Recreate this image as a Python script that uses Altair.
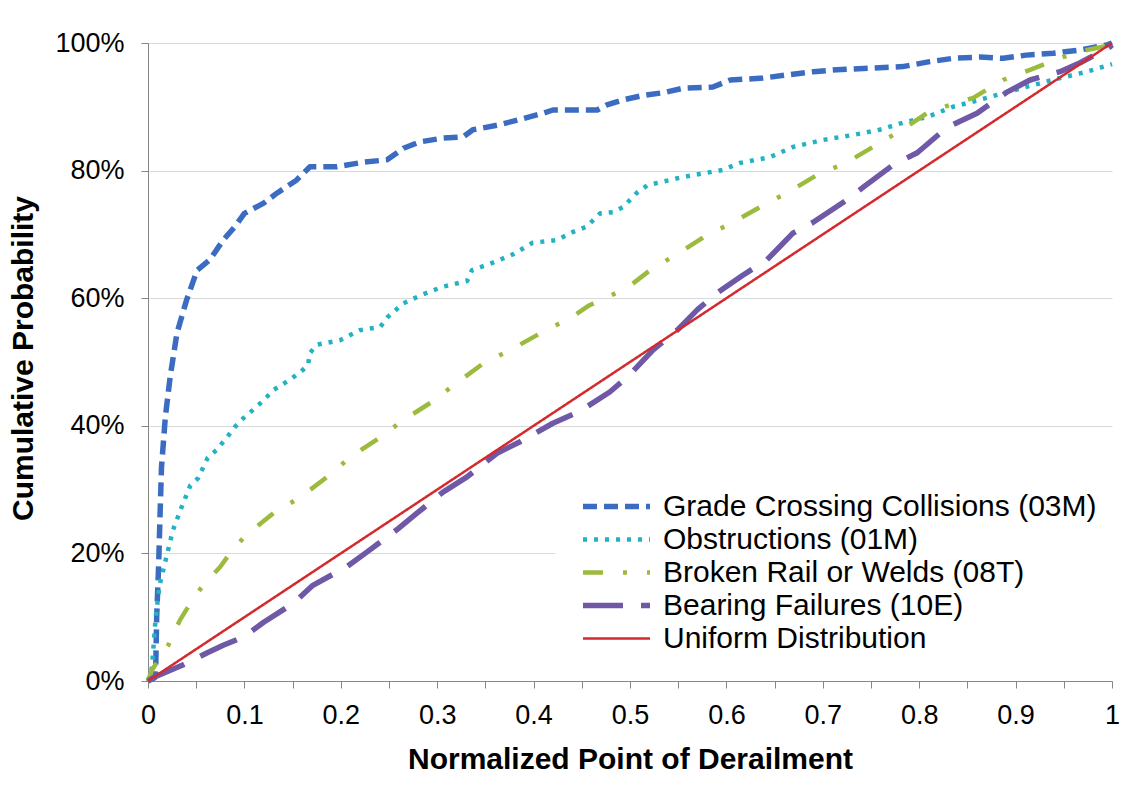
import altair as alt
import pandas as pd

# Series (legend order) and their styles
series_names = [
    "Grade Crossing Collisions (03M)",
    "Obstructions (01M)",
    "Broken Rail or Welds (08T)",
    "Bearing Failures (10E)",
    "Uniform Distribution",
]
line_colors = ["#3B6CC2", "#22B2C4", "#9CBB3E", "#6F58A6", "#D42A2E"]
dash_patterns = [[14, 7], [4, 7], [20, 20, 4, 20], [40, 18], [1, 0]]
line_widths = [5.5, 4.5, 4.5, 5.5, 2.5]

# Normalized point of derailment (x) vs cumulative probability in % (y)
grade_x = [0, 0.007, 0.008, 0.009, 0.011, 0.0125, 0.014, 0.018, 0.023, 0.030, 0.040,
           0.051, 0.064, 0.078, 0.090, 0.100, 0.120, 0.134, 0.154, 0.168, 0.196,
           0.223, 0.248, 0.265, 0.282, 0.306, 0.327, 0.337, 0.362, 0.383, 0.410,
           0.420, 0.466, 0.476, 0.493, 0.514, 0.534, 0.555, 0.586, 0.604, 0.638,
           0.663, 0.690, 0.714, 0.742, 0.783, 0.808, 0.835, 0.863, 0.887, 0.911,
           0.939, 0.967, 0.995, 1.0]
grade_y = [0, 0.5, 2, 10, 18, 26, 33.5, 41.4, 47.7, 54.5, 59.7,
           64.4, 66, 69.1, 71.2, 73.3, 74.9, 76.5, 78.5, 80.6, 80.6,
           81.3, 81.7, 83.5, 84.5, 85.1, 85.3, 86.4, 87.1, 87.9, 89,
           89.5, 89.5, 90.3, 91.1, 91.8, 92.2, 92.9, 93.1, 94.2, 94.5,
           95, 95.5, 95.8, 96, 96.3, 97, 97.6, 97.8, 97.6, 98.1,
           98.4, 98.9, 99.7, 100]

obstr_x = [0, 0.004, 0.008, 0.012, 0.019, 0.026, 0.035, 0.044, 0.052, 0.062, 0.071,
           0.082, 0.090, 0.099, 0.109, 0.120, 0.130, 0.147, 0.158, 0.166, 0.168,
           0.175, 0.199, 0.220, 0.241, 0.249, 0.265, 0.285, 0.306, 0.331, 0.336,
           0.355, 0.379, 0.399, 0.424, 0.441, 0.455, 0.469, 0.483, 0.493, 0.507,
           0.518, 0.555, 0.596, 0.614, 0.645, 0.669, 0.700, 0.732, 0.759, 0.783,
           0.808, 0.835, 0.863, 0.891, 0.918, 0.946, 0.974, 1.0]
obstr_y = [0, 2, 10, 15, 19.4, 23.7, 27.3, 30.7, 31.8, 35, 36.2,
           38.2, 39.8, 41.2, 42.5, 44, 45.6, 47.2, 48.4, 49.5, 51.4,
           52.7, 53.4, 55, 55.5, 57.1, 59.2, 60.6, 61.8, 62.7, 64.4,
           65.4, 66.9, 68.7, 69.1, 70.4, 71.2, 73.3, 73.5, 74.3, 76.5,
           77.7, 79, 80.1, 81.2, 82.1, 83.7, 84.8, 85.6, 86.4, 87.5,
           88.4, 90, 91.1, 92.3, 93.4, 94.5, 95.5, 96.7]

rail_x = [0, 0.004, 0.021, 0.033, 0.044, 0.057, 0.075, 0.085, 0.100, 0.130, 0.158,
          0.186, 0.210, 0.237, 0.265, 0.293, 0.320, 0.348, 0.376, 0.407, 0.438,
          0.458, 0.497, 0.521, 0.552, 0.580, 0.607, 0.635, 0.664, 0.694, 0.725,
          0.752, 0.782, 0.811, 0.856, 0.887, 0.915, 0.949, 0.974, 1.0]
rail_y = [0, 1.7, 5.6, 9.5, 12.2, 15, 17.9, 20, 22.6, 26.3, 28.8,
          32, 35.1, 37.8, 40.9, 43.6, 46.7, 49.8, 51.9, 54.5, 56.9,
          58.9, 61.6, 64.4, 67.2, 69.9, 71.9, 74.3, 76.6, 79.3, 81.3,
          83.7, 86.4, 89.3, 91.4, 94.2, 95.8, 97.8, 98.9, 99.7]

bearing_x = [0, 0.005, 0.036, 0.061, 0.078, 0.099, 0.120, 0.151, 0.171, 0.206, 0.227,
             0.258, 0.279, 0.306, 0.331, 0.362, 0.386, 0.420, 0.447, 0.479, 0.497,
             0.524, 0.549, 0.570, 0.590, 0.617, 0.642, 0.669, 0.690, 0.725, 0.742,
             0.773, 0.798, 0.829, 0.860, 0.891, 0.915, 0.946, 0.967, 0.998, 1.0]
bearing_y = [0, 0.5, 2.5, 4.4, 5.6, 6.9, 9.2, 12.2, 15, 17.9, 20.2,
             23.7, 26.3, 29.6, 32, 35.7, 37.5, 40.4, 42.2, 45.3, 47.6,
             51.9, 55, 58.2, 60.8, 63.6, 66, 70.2, 71.9, 75.4, 77.4,
             80.9, 82.8, 86.8, 89, 92.3, 94.2, 95.5, 96.9, 99.4, 99.7]

uniform_x = [0, 1]
uniform_y = [0, 100]

all_x = [grade_x, obstr_x, rail_x, bearing_x, uniform_x]
all_y = [grade_y, obstr_y, rail_y, bearing_y, uniform_y]

rows = []
for name, xs, ys in zip(series_names, all_x, all_y):
    for i, (a, b) in enumerate(zip(xs, ys)):
        rows.append({"series": name, "x": a, "y": b, "idx": i})
df = pd.DataFrame(rows)

x_ticks = [round(i * 0.05, 2) for i in range(21)]
y_ticks = [0, 20, 40, 60, 80, 100]

legend = alt.Legend(
    title=None,
    orient="none",
    legendX=407,
    legendY=422,
    padding=25,
    fillColor="white",
    symbolType="stroke",
    symbolSize=4489,
    symbolStrokeWidth=5,
    labelFontSize=30,
    labelFont="Liberation Sans",
    labelColor="#000000",
    labelOffset=10,
    labelLimit=700,
    clipHeight=33,
    rowPadding=0,
)

chart = (
    alt.Chart(df)
    .mark_line(strokeCap="butt", strokeJoin="round")
    .encode(
        x=alt.X(
            "x:Q",
            scale=alt.Scale(domain=[0, 1], nice=False, zero=False),
            axis=alt.Axis(
                values=x_ticks,
                format=".1~f",
                labelExpr="round(datum.value * 20) % 2 == 0 ? datum.label : ''",
                grid=False,
                domainColor="#868686",
                tickColor="#868686",
                tickSize=7,
                labelFontSize=27,
                labelPadding=14,
                labelFlush=False,
                labelOverlap=False,
                labelColor="#000000",
                title="Normalized Point of Derailment",
                titleFontSize=30,
                titleFontWeight="bold",
                titleColor="#000000",
                titleY=63,
            ),
        ),
        y=alt.Y(
            "y:Q",
            scale=alt.Scale(domain=[0, 100], nice=False),
            axis=alt.Axis(
                values=y_ticks,
                labelExpr="datum.value + '%'",
                grid=True,
                gridColor="#D9D9D9",
                gridWidth=1,
                domainColor="#868686",
                tickColor="#868686",
                tickSize=7,
                labelFontSize=27,
                labelPadding=17,
                labelFlush=False,
                labelOverlap=False,
                labelColor="#000000",
                title="Cumulative Probability",
                titleFontSize=30,
                titleFontWeight="bold",
                titleColor="#000000",
                titleAngle=270,
                titleAlign="center",
                titleBaseline="bottom",
                titleX=-110,
                titleY=315,
            ),
        ),
        color=alt.Color(
            "series:N",
            scale=alt.Scale(domain=series_names, range=line_colors),
            legend=legend,
        ),
        strokeDash=alt.StrokeDash(
            "series:N",
            scale=alt.Scale(domain=series_names, range=dash_patterns),
            legend=legend,
        ),
        strokeWidth=alt.StrokeWidth(
            "series:N",
            scale=alt.Scale(type="ordinal", domain=series_names, range=line_widths),
            legend=legend,
        ),
        order="idx:Q",
    )
    .properties(
        width=964,
        height=638,
        autosize=alt.AutoSizeParams(type="none"),
        padding={"left": 148, "top": 43, "right": 29, "bottom": 110},
    )
    .configure(font="Liberation Sans", background="white")
    .configure_view(stroke=None)
)

chart.save("out.html", embed_options={"renderer": "svg", "actions": False})
